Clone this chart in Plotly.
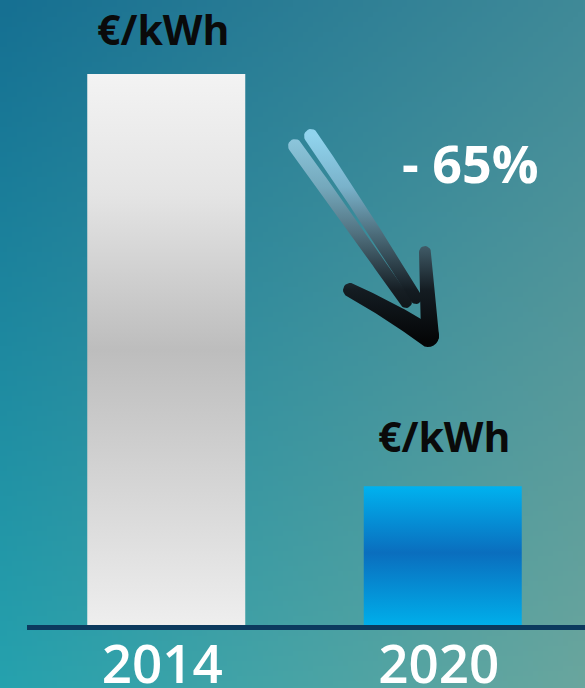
import base64, struct, zlib
import numpy as np
import plotly.graph_objects as go

# ---------------- data ----------------
years = ["2014", "2020"]
price_index = [100.0, 25.2]          # relative bar heights
unit_labels = ["€/kWh", "€/kWh"]
change_label = "- 65%"

W, H = 585, 688

# ---------------- background gradient (PNG data URI) ----------------
def png_uri(arr):
    h, w, _ = arr.shape
    raw = b"".join(b"\x00" + arr[r].tobytes() for r in range(h))
    def chunk(tag, data):
        c = struct.pack(">I", len(data)) + tag + data
        return c + struct.pack(">I", zlib.crc32(tag + data) & 0xFFFFFFFF)
    png = b"\x89PNG\r\n\x1a\n" + chunk(b"IHDR", struct.pack(">IIBBBBB", w, h, 8, 2, 0, 0, 0)) \
        + chunk(b"IDAT", zlib.compress(raw, 9)) + chunk(b"IEND", b"")
    return "data:image/png;base64," + base64.b64encode(png).decode()

gw, gh = 117, 138
TL = np.array([22, 112, 146]); TR = np.array([64, 138, 152])
BL = np.array([38, 162, 174]); BR = np.array([106, 166, 158])
u = np.linspace(0, 1, gw)[None, :, None]
v = np.linspace(0, 1, gh)[:, None, None]
bg = (TL * (1 - u) * (1 - v) + TR * u * (1 - v) + BL * (1 - u) * v + BR * u * v)
bg = np.clip(bg, 0, 255).astype(np.uint8)
bg_uri = png_uri(bg)

# ---------------- geometry helpers ----------------
px_per_unit = 276.5
x_left_px = 27
plot_bottom_px = 625
bar_half = 79 / px_per_unit
ymax = plot_bottom_px / 551 * 100

fig = go.Figure()

bar_scales = [
    [[0, "#eeeeee"], [0.5, "#bdbdbd"], [0.78, "#e4e4e4"], [1, "#f3f3f3"]],
    [[0, "#00aeea"], [0.52, "#0a6ebe"], [1, "#00b2ef"]],
]
for i, (yr, val) in enumerate(zip(years, price_index)):
    fig.add_trace(go.Scatter(
        x=[i - bar_half, i + bar_half, i + bar_half, i - bar_half, i - bar_half],
        y=[0, 0, val, val, 0],
        mode="lines", line=dict(width=0), fill="toself",
        fillgradient=dict(type="vertical", colorscale=bar_scales[i], start=0, stop=val),
        hoverinfo="skip", showlegend=False, xaxis="x", yaxis="y",
    ))

# ---------------- arrow (decoration, pixel space on overlay axes) ----------------
def stroke(p0, c, p2, w0, w1, n=40, cap_start=True, cap_end=True):
    t = np.linspace(0, 1, n)[:, None]
    p0, c, p2 = map(np.array, (p0, c, p2))
    pts = (1 - t) ** 2 * p0 + 2 * (1 - t) * t * c + t ** 2 * p2
    d = 2 * (1 - t) * (c - p0) + 2 * t * (p2 - c)
    d = d / np.linalg.norm(d, axis=1, keepdims=True)
    nrm = np.stack([-d[:, 1], d[:, 0]], axis=1)
    w = (w0 + (w1 - w0) * t) / 2
    a = pts + nrm * w
    b = pts - nrm * w
    parts = [a]
    if cap_end:
        ang0 = np.arctan2(nrm[-1, 1], nrm[-1, 0])
        th = ang0 - np.linspace(0, np.pi, 12)
        parts.append(pts[-1] + w[-1] * np.stack([np.cos(th), np.sin(th)], axis=1))
    parts.append(b[::-1])
    if cap_start:
        ang0 = np.arctan2(-nrm[0, 1], -nrm[0, 0])
        th = ang0 - np.linspace(0, np.pi, 12)
        parts.append(pts[0] + w[0] * np.stack([np.cos(th), np.sin(th)], axis=1))
    poly = np.vstack(parts + [a[:1]])
    return poly[:, 0], poly[:, 1]

cs_left = [[0, "rgba(150,206,228,0.92)"], [0.25, "rgba(120,170,190,0.95)"],
           [0.48, "#50707e"], [0.75, "#161e24"], [1, "#040506"]]
cs_right = [[0, "rgba(150,216,242,0.95)"], [0.25, "rgba(125,180,205,0.95)"],
            [0.48, "#4c6c7a"], [0.75, "#141c22"], [1, "#040506"]]
arrow_parts = [
    (((295, 146), (350, 222), (406, 302), 14, 12), cs_left),
    (((311, 136), (365, 215), (416, 298), 14, 12), cs_right),
    (((350, 290), (392, 311), (428, 336), 14, 22), cs_right),
    (((425, 252), (428, 298), (430, 336), 12, 18), cs_right),
]
for (p0, c, p2, w0, w1), cs in arrow_parts:
    xs, ys = stroke(p0, c, p2, w0, w1)
    fig.add_trace(go.Scatter(
        x=xs, y=ys, mode="lines", line=dict(width=0), fill="toself",
        fillgradient=dict(type="vertical", colorscale=cs, start=135, stop=342),
        hoverinfo="skip", showlegend=False, xaxis="x2", yaxis="y2",
    ))

# ---------------- annotations ----------------
unit_shifts = [45, 50]
annotations = []
for i, (lab, val) in enumerate(zip(unit_labels, price_index)):
    annotations.append(dict(
        x=i, y=val, xref="x", yref="y", text=lab, showarrow=False,
        yanchor="middle", yshift=unit_shifts[i], xshift=-3 if i == 0 else 1,
        font=dict(family="Open Sans", size=41, color="#0a0a0a", weight=700),
    ))
annotations.append(dict(
    x=470, y=162, xref="x2", yref="y2", text=change_label, showarrow=False,
    xanchor="center", yanchor="middle",
    font=dict(family="Open Sans", size=52, color="white", weight=700),
))

fig.update_layout(
    width=W, height=H,
    margin=dict(l=0, r=0, t=0, b=0),
    paper_bgcolor="#2a8fa5", plot_bgcolor="rgba(0,0,0,0)",
    images=[dict(source=bg_uri, xref="paper", yref="paper", x=0, y=1,
                 sizex=1, sizey=1, xanchor="left", yanchor="top",
                 sizing="stretch", layer="below")],
    xaxis=dict(
        domain=[x_left_px / W, 1],
        range=[-0.5 - 1 / px_per_unit, -0.5 + (W - x_left_px - 1) / px_per_unit],
        tickvals=list(range(len(years))), ticktext=years,
        tickfont=dict(family="Open Sans", size=53, color="white", weight=600),
        showline=True, linecolor="#0c3a5e", linewidth=5,
        showgrid=False, zeroline=False, ticks="", automargin=False,
        ticklabelstandoff=-11, ticklabelshift=-4, fixedrange=True,
    ),
    yaxis=dict(
        domain=[(H - plot_bottom_px) / H, 1], range=[0, ymax],
        visible=False, fixedrange=True,
    ),
    xaxis2=dict(domain=[0, 1], range=[0, W], anchor="y2", visible=False, fixedrange=True),
    yaxis2=dict(domain=[0, 1], range=[H, 0], anchor="x2", visible=False, fixedrange=True),
    annotations=annotations,
    showlegend=False,
)

fig.write_html(
    "out.html",
    config={"displayModeBar": False},
    post_script="document.body.style.margin='0';document.body.style.overflow='hidden';",
)
